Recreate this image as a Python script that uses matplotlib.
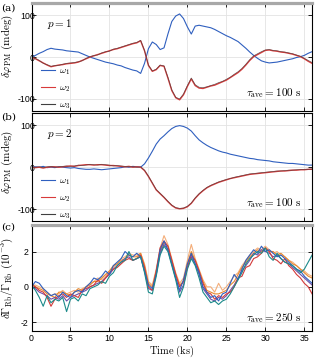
import numpy as np
import matplotlib
matplotlib.use("Agg")
import matplotlib.pyplot as plt

plt.rcParams["font.family"] = ["Liberation Sans", "DejaVu Sans"]
plt.rcParams["mathtext.fontset"] = "cm"

# ---- panel (a): p = 1, tau_ave = 100 s, sampled every 0.5 ks ----
a_w1 = [0, 4, 9, 13, 18, 21, 19, 18, 17, 15, 14, 13, 12, 8, 4, 0, -3, -6, -9, -12,
        -14, -16, -19, -21, -25, -28, -31, -33, -39, -15, 20, 36, 30, 18, 22, 55, 85, 98,
        103, 92, 72, 55, 74, 76, 74, 72, 70, 66, 61, 56, 51, 47, 42, 37, 29, 21, 12, 4,
        -3, -9, -12, -14, -13, -12, -10, -8, -6, -4, -1, 1, 4, 9, 13]
a_w2 = [0, -4, -9, -14, -19, -23, -21, -19, -18, -16, -15, -14, -12, -8, -4, 0, 3, 6, 9,
        12, 15, 18, 20, 23, 26, 29, 32, 34, 39, 15, -20, -34, -30, -20, -22, -50, -80, -97,
        -102, -90, -70, -52, -68, -74, -75, -72, -69, -67, -63, -59, -55, -49, -43, -37, -29,
        -19, -8, 1, 6, 11, 16, 17, 15, 14, 12, 11, 9, 7, 4, 1, -4, -10, -15]
a_w3 = [0, -3, -8, -15, -18, -22, -20, -20, -17, -15, -14, -13, -11, -9, -3, 1, 4, 5, 10,
        13, 14, 19, 21, 24, 27, 30, 33, 35, 40, 16, -19, -33, -29, -19, -21, -48, -78, -96,
        -100, -88, -68, -50, -66, -72, -73, -71, -68, -65, -61, -58, -53, -48, -41, -35, -27,
        -17, -6, 3, 8, 13, 17, 18, 16, 15, 13, 12, 10, 8, 5, 2, -3, -8, -13]

# ---- panel (b): p = 2, tau_ave = 100 s ----
b_w1 = [0, 1, 0, 2, -1, 0, -1, 1, 0, -1, -2, -1, -3, -4, -5, -5, -4, -5, -6, -5, -4, -3,
        -2, -1, 1, 0, 2, 1, 0, 8, 22, 38, 55, 67, 75, 84, 92, 97, 99, 97, 93, 86, 75, 65,
        58, 52, 47, 43, 39, 36, 34, 31, 29, 27, 25, 23, 21, 20, 18, 17, 16, 15, 13, 12, 11,
        10, 9, 9, 8, 7, 6, 5, 5]
b_w2 = [0, -1, 0, -2, 0, 1, 1, 0, 1, 2, 3, 2, 4, 5, 6, 6, 5, 6, 6, 5, 4, 4, 3, 2, 1, 2,
        0, 1, 0, -8, -22, -38, -54, -63, -72, -82, -91, -97, -99, -98, -94, -86, -74, -64,
        -56, -49, -44, -40, -36, -33, -30, -27, -25, -23, -21, -19, -17, -16, -15, -14, -13,
        -12, -11, -10, -9, -9, -8, -7, -7, -6, -6, -5, -5]
b_w3 = [0, 0, 1, -1, 1, 2, 0, 1, 2, 3, 2, 3, 5, 4, 5, 7, 6, 5, 7, 6, 5, 3, 4, 3, 2, 1,
        1, 0, 1, -7, -21, -37, -53, -62, -71, -81, -90, -96, -98, -97, -93, -85, -73, -63,
        -55, -48, -43, -39, -35, -32, -29, -27, -24, -22, -20, -18, -16, -15, -14, -13, -12,
        -11, -10, -9, -9, -8, -7, -7, -6, -6, -5, -5, -4]

# ---- panel (c): dGamma/Gamma (1e-3), tau_ave = 250 s ----
c_teal = [0.1, -0.2, -0.6, -1.1, -0.5, -0.9, -0.7, -0.8, -0.6, -1.4, -0.7, -0.6, -0.8, -0.4,
          -0.5, -0.1, 0.0, 0.1, 0.3, 0.2, 0.6, 0.8, 1.2, 1.4, 1.5, 2.0, 1.5, 1.6, 1.7, 0.8,
          -0.3, -0.4, 0.6, 1.8, 2.3, 2.0, 1.2, 0.4, -0.6, 0.0, 1.0, 1.6, 1.2, 0.5, -0.3, -0.6,
          -0.9, -0.8, -1.0, -0.8, -0.7, -0.4, 0.0, 0.4, 0.8, 1.3, 1.6, 1.8, 2.0, 1.9, 2.2, 1.7,
          1.5, 1.9, 1.6, 1.4, 1.3, 1.2, 1.0, 0.8, 1.0, 1.4, 1.8]
c_blue = [0.0, 0.3, 0.2, -0.1, -0.3, -0.5, -0.4, -0.6, -0.3, -0.5, -0.6, -0.3, -0.2, -0.3,
          0.0, 0.2, 0.5, 0.4, 0.6, 0.9, 0.7, 1.2, 1.4, 1.6, 2.0, 1.8, 1.7, 1.9, 1.7, 0.9, 0.1,
          -0.1, 0.7, 2.1, 2.6, 2.1, 1.3, 0.5, -0.2, 0.4, 1.3, 1.9, 1.3, 0.8, 0.0, -0.3, -0.6,
          -0.5, -0.8, -0.4, -0.3, 0.2, 0.7, 0.4, 1.0, 1.5, 1.8, 2.1, 1.9, 2.3, 2.0, 2.1, 1.9,
          1.7, 1.8, 1.6, 1.4, 1.2, 1.0, 0.9, 0.6, 0.4, 0.2]
c_red = [0.1, 0.0, -0.2, -0.3, -0.6, -1.1, -0.7, -0.5, -0.4, -0.6, -0.4, -0.5, -0.6, -0.2,
         -0.1, 0.0, 0.1, 0.4, 0.2, 0.5, 0.8, 1.0, 1.1, 1.3, 1.5, 1.6, 1.5, 1.6, 1.8, 1.1, 0.0,
         -0.2, 0.9, 2.2, 2.6, 2.3, 1.5, 0.7, 0.0, 0.3, 1.1, 1.8, 1.5, 0.9, 0.2, -0.3, -0.4,
         -0.7, -0.5, -0.6, -0.4, -0.3, 0.0, 0.5, 0.6, 1.1, 1.2, 1.6, 1.7, 1.9, 2.2, 2.0, 1.6,
         1.5, 1.3, 1.6, 1.2, 1.0, 0.7, 0.5, 0.2, 0.0, -0.4]
c_orange = [0.2, 0.0, -0.1, -0.2, -0.4, -0.5, -0.6, -0.3, -0.3, -0.4, -0.5, -0.3, -0.1, -0.2,
            0.0, 0.1, 0.3, 0.3, 0.5, 0.7, 0.9, 1.2, 1.3, 1.5, 1.6, 1.8, 1.7, 1.7, 1.9, 1.2,
            0.2, 0.0, 0.9, 2.0, 2.5, 2.3, 1.5, 0.7, 0.1, 0.3, 1.3, 2.0, 1.5, 0.9, 0.3, -0.2,
            -0.3, -0.4, -0.4, -0.3, -0.2, 0.1, 0.3, 0.7, 1.1, 1.4, 1.7, 1.9, 2.1, 2.0, 2.2, 2.0,
            2.0, 1.8, 1.9, 1.7, 1.5, 1.3, 1.2, 1.0, 0.8, 0.6, 0.5]
c_peach = [0.1, 0.1, 0.0, -0.1, -0.3, -0.5, -0.4, -0.4, -0.2, -0.4, -0.3, -0.2, -0.3, -0.1,
           0.0, 0.2, 0.3, 0.5, 0.4, 0.6, 0.9, 1.1, 1.3, 1.6, 1.7, 1.9, 1.8, 1.8, 1.9, 1.3, 0.3,
           0.1, 1.0, 2.2, 2.9, 2.4, 1.6, 0.8, 0.2, 0.5, 1.5, 2.4, 1.6, 1.0, 0.4, 0.0, 0.0, -0.3,
           0.2, -0.2, 0.0, 0.3, 0.6, 0.8, 1.2, 1.5, 1.8, 2.0, 2.2, 2.1, 2.3, 2.1, 1.9, 2.0, 1.8,
           1.7, 1.5, 1.4, 1.2, 1.0, 0.9, 0.7, 0.6]
c_purple = [0.0, -0.1, -0.3, -0.4, -0.5, -0.7, -0.6, -0.7, -0.5, -0.8, -0.6, -0.5, -0.4, -0.3,
            -0.2, 0.0, 0.1, 0.2, 0.3, 0.5, 0.7, 1.0, 1.2, 1.4, 1.6, 1.7, 1.5, 1.6, 1.7, 0.9,
            -0.1, -0.2, 0.7, 1.9, 2.4, 2.1, 1.3, 0.5, -0.3, 0.1, 1.1, 1.7, 1.3, 0.7, -0.1, -0.4,
            -0.7, -0.8, -0.6, -0.7, -0.5, -0.2, 0.1, 0.5, 0.9, 1.2, 1.5, 1.9, 1.8, 2.1, 2.0, 1.9,
            1.7, 1.8, 1.6, 1.4, 1.3, 1.1, 0.9, 0.7, 0.5, 0.3, 0.1]

DT = 0.5  # ks per sample
BLUE, RED, DARK = "#2f5fbf", "#d83a3a", "#404040"


def style(ax, ylim, yticks, top_gray=False, ypad=2):
    ax.set_xlim(0, 36); ax.set_ylim(*ylim)
    ax.set_xticks([0, 5, 10, 15, 20, 25, 30, 35]); ax.set_yticks(yticks)
    ax.tick_params(direction="in", top=True, right=True, length=3, width=0.6,
                   labelsize=6.3, pad=2)
    ax.tick_params(axis="y", pad=ypad)
    ax.grid(color="#e3e3e3", lw=0.6); ax.set_axisbelow(True)
    for s in ax.spines.values():
        s.set_linewidth(0.8)
    if top_gray:
        ax.spines["top"].set_color("#a8a8a8"); ax.spines["top"].set_linewidth(2.3)


fig = plt.figure(figsize=(3.16, 3.61), dpi=100)
W = 0.888; L = 0.0997
axa = fig.add_axes([L, 0.6934, W, 0.297])
axb = fig.add_axes([L, 0.3878, W, 0.298])
axc = fig.add_axes([L, 0.0831, W, 0.2936])

for ax, (w1, w2, w3), p, ylab_y in [(axa, (a_w1, a_w2, a_w3), 1, 0.6),
                                    (axb, (b_w1, b_w2, b_w3), 2, 0.55)]:
    ax.plot(DT * np.arange(len(w1)), w1, color=BLUE, lw=0.8, label=r"$\omega_1$")
    ax.plot(DT * np.arange(len(w2)), w2, color=RED, lw=1.0, label=r"$\omega_2$")
    ax.plot(DT * np.arange(len(w3)), w3, color=DARK, lw=0.5, alpha=0.75, label=r"$\omega_3$")
    style(ax, (-128, 128), [-100, 0, 100], top_gray=(p == 1), ypad=-2.5)
    ax.set_yticklabels(["-100", "0", "100"])
    ax.set_xticklabels([])
    ax.set_ylabel(r"$\delta\varphi_{\rm PM}\ (\rm mdeg)$", fontsize=8, labelpad=0)
    ax.yaxis.set_label_coords(-0.06, ylab_y)
    ax.text(0.055, 0.81, rf"$p={p}$", transform=ax.transAxes, fontsize=8, va="center")
    ax.text(0.963, 0.165, r"$\tau_{\rm ave}=100\ \rm s$", transform=ax.transAxes,
            fontsize=8, ha="right", va="center")
    leg = ax.legend(loc="lower left", frameon=False, fontsize=7, handlelength=1.4,
                    handletextpad=0.5, labelspacing=0.55, borderaxespad=0.0,
                    bbox_to_anchor=(0.02, -0.04))
    for h in leg.get_lines():
        h.set_linewidth(0.8); h.set_alpha(1)

c_series = [(c_peach, "#f4ae7a"), (c_orange, "#e8892e"), (c_purple, "#6f4fa8"),
            (c_red, "#d33a3a"), (c_blue, BLUE), (c_teal, "#1b8a8a")]
for ys, col in c_series:
    axc.plot(DT * np.arange(len(ys)), ys, color=col, lw=0.8)
style(axc, (-2.5, 3.5), [-2, 0, 2], top_gray=True)
axc.set_yticklabels(["-2", "0", "2"])
axc.set_ylabel(r"$\delta\Gamma_{\rm Rb}/\Gamma_{\rm Rb}\ (10^{-3})$", fontsize=8, labelpad=4)
axc.set_xlabel(r"$\rm Time\ (ks)$", fontsize=7.5, labelpad=1)
axc.text(0.963, 0.12, r"$\tau_{\rm ave}=250\ \rm s$", transform=axc.transAxes,
         fontsize=8, ha="right", va="center")

for lab, y in [("(a)", 0.978), ("(b)", 0.675), ("(c)", 0.37)]:
    fig.text(0.002, y, lab, fontsize=7.5, family="DejaVu Serif", va="center")

fig.savefig("out.png", dpi=100)
